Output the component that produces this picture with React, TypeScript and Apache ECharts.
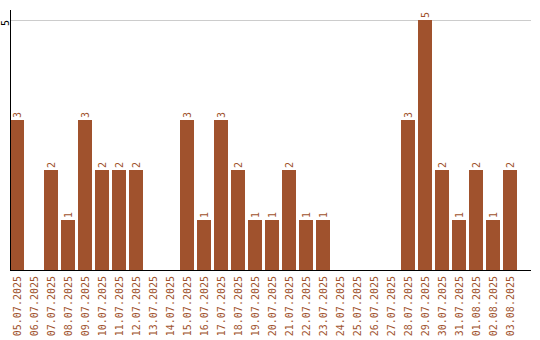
import React, { useEffect, useRef } from "react";
import * as echarts from "echarts";

const categories = [
  "05.07.2025", "06.07.2025", "07.07.2025", "08.07.2025", "09.07.2025",
  "10.07.2025", "11.07.2025", "12.07.2025", "13.07.2025", "14.07.2025",
  "15.07.2025", "16.07.2025", "17.07.2025", "18.07.2025", "19.07.2025",
  "20.07.2025", "21.07.2025", "22.07.2025", "23.07.2025", "24.07.2025",
  "25.07.2025", "26.07.2025", "27.07.2025", "28.07.2025", "29.07.2025",
  "30.07.2025", "31.07.2025", "01.08.2025", "02.08.2025", "03.08.2025",
];
const counts = [3, 0, 2, 1, 3, 2, 2, 2, 0, 0, 3, 1, 3, 2, 1, 1, 2, 1, 1, 0, 0, 0, 0, 3, 5, 2, 1, 2, 1, 2];
const yTicks = [5];

const BAR = "#a0522d";
const FONT = "DejaVu Sans Mono";

export default function App() {
  const ref = useRef<HTMLDivElement>(null);
  useEffect(() => {
    if (!ref.current) return;
    const chart = echarts.init(ref.current, null, { renderer: "svg" });
    chart.setOption({
      animation: false,
      grid: {
        left: 8.5,
        top: 10,
        right: 21.5,
        bottom: 70,
        containLabel: false,
        outerBoundsMode: "none",
      },
      xAxis: {
        type: "category",
        data: categories,
        axisLine: { show: false },
        axisTick: { show: false },
        axisLabel: {
          interval: 0,
          rotate: 90,
          margin: 6,
          color: BAR,
          fontFamily: FONT,
          fontSize: 10,
        },
      },
      yAxis: {
        type: "value",
        min: 0,
        max: 5.2,
        interval: 5,
        axisLine: { show: false },
        axisTick: { show: false },
        splitLine: { show: false },
        axisLabel: {
          rotate: 90,
          margin: 3,
          align: "right",
          verticalAlign: "middle",
          color: "#000",
          fontFamily: FONT,
          fontSize: 10,
          formatter: (v: number) => (yTicks.includes(v) ? String(v) : ""),
        },
      },
      series: [
        {
          type: "bar",
          data: counts,
          barWidth: 14,
          itemStyle: { color: BAR },
          label: {
            show: true,
            position: "top",
            rotate: 90,
            align: "left",
            verticalAlign: "middle",
            distance: 2,
            color: BAR,
            fontFamily: FONT,
            fontSize: 10,
            formatter: (p: any) => (p.value ? String(p.value) : ""),
          },
        },
      ],
    });
    const y0 = chart.convertToPixel({ yAxisIndex: 0 }, 0) as number;
    const yTop = chart.convertToPixel({ yAxisIndex: 0 }, 5.2) as number;
    const gridLines = yTicks.map((t) => {
      const y = Math.round(chart.convertToPixel({ yAxisIndex: 0 }, t) as number) + 0.5;
      return {
        type: "line",
        shape: { x1: 10, y1: y, x2: 531, y2: y },
        style: { stroke: "#cccccc", lineWidth: 1 },
        z: 0,
      };
    });
    const yb = Math.round(y0) + 0.5;
    chart.setOption({
      graphic: [
        ...gridLines,
        {
          type: "line",
          shape: { x1: 10.5, y1: Math.round(yTop), x2: 10.5, y2: yb },
          style: { stroke: "#000", lineWidth: 1 },
          z: 10,
        },
        {
          type: "line",
          shape: { x1: 10, y1: yb, x2: 531, y2: yb },
          style: { stroke: "#000", lineWidth: 1 },
          z: 10,
        },
      ],
    });
    return () => chart.dispose();
  }, []);
  return (
    <div
      ref={ref}
      style={{ position: "fixed", left: 0, top: 0, width: 540, height: 340, background: "#fff" }}
    />
  );
}
